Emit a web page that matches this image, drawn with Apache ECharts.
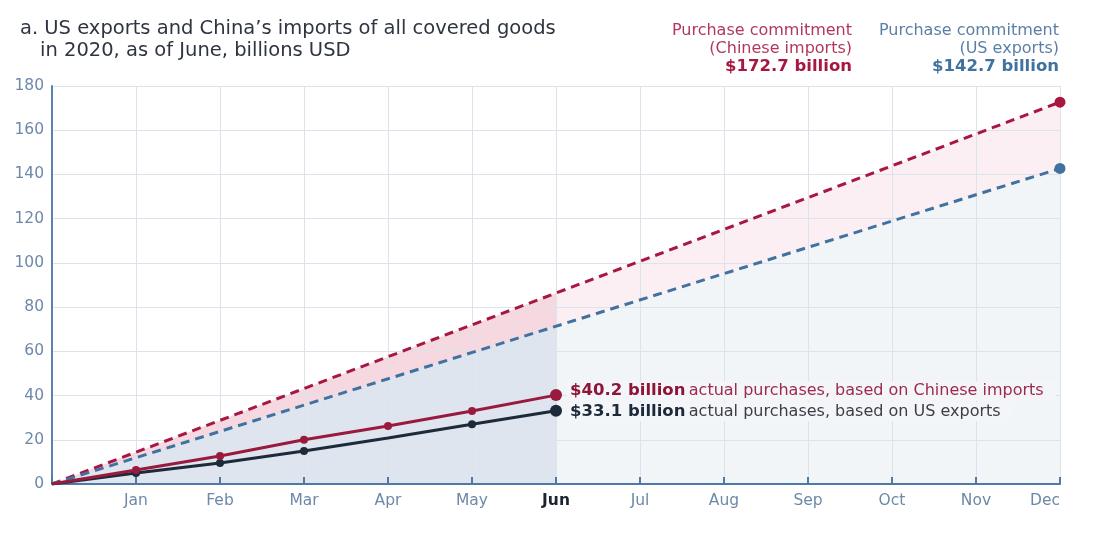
<!DOCTYPE html>
<html>
<head>
<meta charset="utf-8">
<script src="https://cdn.jsdelivr.net/npm/echarts@6/dist/echarts.min.js"></script>
<style>
html,body{margin:0;padding:0;background:#fff;}
#chart{width:1103px;height:536px;}
</style>
</head>
<body>
<div id="chart"></div>
<script>
// ---- data ----
const months = ['', 'Jan', 'Feb', 'Mar', 'Apr', 'May', 'Jun', 'Jul', 'Aug', 'Sep', 'Oct', 'Nov', 'Dec'];
const chinaImports = [0, 6.3, 12.7, 20.0, 26.2, 33.0, 40.2];
const usExports = [0, 5.0, 9.5, 14.9, 20.8, 27.0, 33.1];
const commitChina = [0, null, null, null, null, null, null, null, null, null, null, null, 172.7];
const commitUS = [0, null, null, null, null, null, null, null, null, null, null, null, 142.7];
const yMin = 0, yMax = 180, yStep = 20;
const titleLines = ['a. US exports and China\u2019s imports of all covered goods', 'in 2020, as of June, billions USD'];
const chinaLabel = 'actual purchases, based on Chinese imports';
const usLabel = 'actual purchases, based on US exports';
const chinaCommitLines = ['Purchase commitment', '(Chinese imports)'];
const usCommitLines = ['Purchase commitment', '(US exports)'];

const FONT = '"DejaVu Sans", "Open Sans", sans-serif';
const RED = '#a8173f', BLUE = '#41729f', DARK = '#1c2a3a', ACTRED = '#9a1a3e';

function lastVal(a){ for (let i=a.length-1;i>=0;i--) if (a[i]!=null) return a[i]; }

function actualData(arr, boldColor, textColor, text, noMarker, dy){
  return arr.map((v,i)=>{
    if (i===0) return {value:v, symbol:'none'};
    if (noMarker.includes(i)) return {value:v, symbol:'none'};
    if (i===arr.length-1) return {
      value:v, symbolSize:12,
      label:{show:true, position:'right', distance:5, offset:[0,dy],
        backgroundColor:'#f3f5f9', padding:[1,12,1,3],
        formatter:(p)=>'{b|$'+p.value.toFixed(1)+' billion} {t|'+text+'}',
        rich:{
          b:{fontFamily:FONT,fontSize:16.5,fontWeight:700,color:boldColor},
          t:{fontFamily:FONT,fontSize:16,color:textColor}
        }}
    };
    return v;
  });
}
function commitData(arr){
  return arr.map((v,i)=> i===0 ? {value:v, symbol:'none'} : v);
}

const chart = echarts.init(document.getElementById('chart'), null, {renderer:'canvas'});
const cVal = lastVal(commitChina), uVal = lastVal(commitUS);

function rtext(right, top, text, size, weight, fill){
  return {type:'text', right:right, top:top, style:{text:text, fontFamily:FONT, fontSize:size, fontWeight:weight, fill:fill}};
}

chart.setOption({
  animation:false,
  grid:{left:52, right:43, top:86, bottom:52},
  xAxis:{
    type:'category', data:months, boundaryGap:false, z:3,
    axisLine:{lineStyle:{color:'#4f79a7', width:2}},
    axisTick:{inside:true, length:7, lineStyle:{color:'#4f79a7', width:2}},
    axisLabel:{fontFamily:FONT, fontSize:15.5, color:'#6d88a9', margin:9, interval:0, alignMaxLabel:'right',
      formatter:(v)=> v==='Jun' ? '{j|Jun}' : v,
      rich:{j:{fontFamily:FONT,fontSize:15.5,fontWeight:700,color:'#1c2430'}}},
    splitLine:{show:true, lineStyle:{color:'#dce3eb', width:1}}
  },
  yAxis:{
    type:'value', min:yMin, max:yMax, interval:yStep, z:3,
    axisLine:{show:true, lineStyle:{color:'#5b82ab', width:2}},
    axisTick:{show:false},
    axisLabel:{fontFamily:FONT, fontSize:15.5, color:'#6d88a9', margin:8},
    splitLine:{lineStyle:{color:'#dce3eb', width:1}}
  },
  graphic:[
    {type:'text', left:20, top:19, style:{text:titleLines[0], fontFamily:FONT, fontSize:19.5, fontWeight:500, fill:'#2f3540'}},
    {type:'text', left:40, top:41, style:{text:titleLines[1], fontFamily:FONT, fontSize:19.5, fontWeight:500, fill:'#2f3540'}},
    rtext(251, 23, chinaCommitLines[0], 16, 'normal', '#b2375c'),
    rtext(251, 41, chinaCommitLines[1], 16, 'normal', '#b2375c'),
    rtext(251, 58, '$'+cVal.toFixed(1)+' billion', 16.5, 'bold', RED),
    rtext(44, 23, usCommitLines[0], 16, 'normal', '#5b7fa6'),
    rtext(44, 41, usCommitLines[1], 16, 'normal', '#5b7fa6'),
    rtext(44, 58, '$'+uVal.toFixed(1)+' billion', 16.5, 'bold', BLUE)
  ],
  series:[
    {type:'line', name:'areaChina', data:commitChina, connectNulls:true, symbol:'none', z:1, silent:true,
      lineStyle:{width:0}, areaStyle:{color:'#f6d8e0', opacity:1}},
    {type:'line', name:'areaUS', data:commitUS, connectNulls:true, symbol:'none', z:1, silent:true,
      lineStyle:{width:0}, areaStyle:{color:'#dee5ee', opacity:1}},
    {type:'line', name:'overlay', data:commitUS, connectNulls:true, symbol:'none', z:2, silent:true,
      lineStyle:{width:0, opacity:0},
      markArea:{silent:true, z:2, itemStyle:{color:'rgba(255,255,255,0.6)'}, data:[[{xAxis:'Jun'},{xAxis:'Dec'}]]}},
    {type:'line', name:'Commitment China', data:commitData(commitChina), connectNulls:true, z:4,
      symbol:'circle', symbolSize:11, itemStyle:{color:RED},
      lineStyle:{color:RED, width:3, type:[9,6]}},
    {type:'line', name:'Commitment US', data:commitData(commitUS), connectNulls:true, z:4,
      symbol:'circle', symbolSize:11, itemStyle:{color:BLUE},
      lineStyle:{color:BLUE, width:3, type:[9,6]}},
    {type:'line', name:'US exports', data:actualData(usExports, DARK, '#3a3f47', usLabel, [4], 1), z:5,
      symbol:'circle', symbolSize:8, itemStyle:{color:DARK}, lineStyle:{color:DARK, width:3}},
    {type:'line', name:'China imports', data:actualData(chinaImports, '#8e1537', '#9d2a4b', chinaLabel, [], -4), z:6,
      symbol:'circle', symbolSize:8, itemStyle:{color:ACTRED}, lineStyle:{color:ACTRED, width:3}}
  ]
});
</script>
</body>
</html>
